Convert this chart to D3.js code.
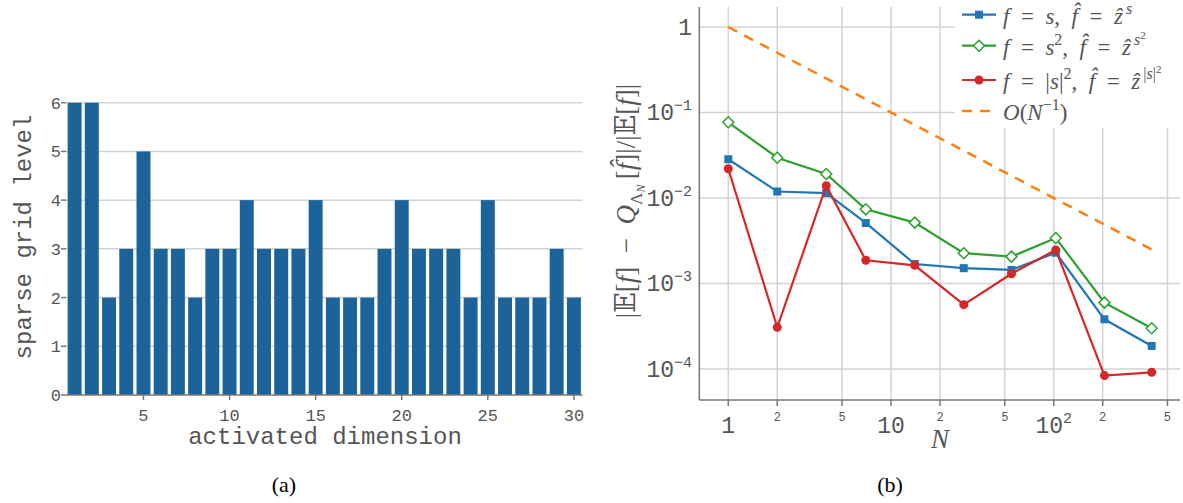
<!DOCTYPE html>
<html>
<head>
<meta charset="utf-8">
<script src="https://cdn.jsdelivr.net/npm/d3@7"></script>
<style>
  body { margin: 0; background: #fff; }
  text { fill: #555; }
</style>
</head>
<body>
<svg id="fig" width="1183" height="503"></svg>
<script>
// left panel: sparse grid level for each activated dimension
const levels = [6, 6, 2, 3, 5, 3, 3, 2, 3, 3, 4, 3, 3, 3, 4, 2, 2, 2, 3, 4, 3, 3, 3, 2, 4, 2, 2, 2, 3, 2]
const levelTicks = [0, 1, 2, 3, 4, 5, 6]
const dimTicks = [5, 10, 15, 20, 25, 30]

// right panel: relative error vs N
const nValues = [1, 2, 4, 7, 14, 28, 55, 103, 205, 400]
const errS = [0.0284, 0.0119, 0.0114, 0.0051, 0.00169, 0.00151, 0.00144, 0.00229, 0.000381, 0.000186]
const errS2 = [0.0768, 0.0296, 0.0191, 0.00737, 0.00515, 0.00226, 0.00206, 0.0034, 0.000597, 0.000299]
const errAbs = [0.022, 0.000307, 0.0139, 0.00187, 0.00163, 0.000565, 0.0013, 0.00247, 0.0000836, 0.0000914]
const rateRef = [1, 0.5, 0.25, 0.143, 0.0714, 0.0357, 0.0182, 0.0097, 0.00488, 0.0025]
const yDecades = [1, 1e-1, 1e-2, 1e-3, 1e-4]
const xMajor = [1, 10, 100]
const xMinor = [2, 5, 20, 50, 200, 500]

const svg = d3.select('#fig')
const mono = '"Liberation Mono", "DejaVu Sans Mono", monospace'
const serif = '"Liberation Serif", "DejaVu Serif", serif'
const grid = '#d3d3d3'
const sp = '\u2002'

// ---------- (a) bar chart ----------
const xL = d3.scaleLinear().domain([0.5, 30.5]).range([66, 582.5])
const yL = d3.scaleLinear().domain([0, 6]).range([395, 102.7])
const gA = svg.append('g')

gA.selectAll('line.grid')
    .data(levelTicks.slice(1))
    .enter().append('line')
    .attr('x1', xL(0.5)).attr('x2', xL(30.5))
    .attr('y1', d => yL(d)).attr('y2', d => yL(d))
    .style('stroke', grid).style('stroke-width', 1.5)

const bw = (xL(2) - xL(1)) * 0.81
gA.selectAll('rect')
    .data(levels)
    .enter().append('rect')
    .attr('x', (d, i) => xL(i + 1) - bw / 2)
    .attr('width', bw)
    .attr('y', d => yL(d))
    .attr('height', d => yL(0) - yL(d))
    .style('fill', '#1c6399')

gA.append('line')
    .attr('x1', xL(0.5)).attr('x2', xL(30.5))
    .attr('y1', yL(0)).attr('y2', yL(0))
    .style('stroke', '#777').style('stroke-width', 1.5)

gA.selectAll('line.yt')
    .data(levelTicks)
    .enter().append('line')
    .attr('x1', 61).attr('x2', 66)
    .attr('y1', d => yL(d)).attr('y2', d => yL(d))
    .style('stroke', '#777').style('stroke-width', 1.5)

gA.selectAll('text.yl')
    .data(levelTicks)
    .enter().append('text')
    .attr('x', 61).attr('y', d => yL(d) + 6)
    .attr('text-anchor', 'end')
    .style('font-family', mono).style('font-size', '17px')
    .text(d => d)

gA.selectAll('line.xt')
    .data(dimTicks)
    .enter().append('line')
    .attr('x1', d => xL(d)).attr('x2', d => xL(d))
    .attr('y1', yL(0)).attr('y2', yL(0) + 5)
    .style('stroke', '#777').style('stroke-width', 1.5)

gA.selectAll('text.xl')
    .data(dimTicks)
    .enter().append('text')
    .attr('x', d => xL(d)).attr('y', 421)
    .attr('text-anchor', 'middle')
    .style('font-family', mono).style('font-size', '17px')
    .text(d => d)

gA.append('text')
    .attr('x', 325).attr('y', 444)
    .attr('text-anchor', 'middle')
    .style('font-family', mono).style('font-size', '24px')
    .text('activated dimension')

gA.append('text')
    .attr('transform', 'translate(31,237) rotate(-90)')
    .attr('text-anchor', 'middle')
    .style('font-family', mono).style('font-size', '24px')
    .text('sparse grid level')

// ---------- (b) convergence plot ----------
const xR = d3.scaleLog().domain([Math.pow(10, -0.178), Math.pow(10, 2.776)]).range([699.3, 1180])
const yR = d3.scaleLog().domain([Math.pow(10, -4.363), Math.pow(10, 0.234)]).range([400, 7])
const gB = svg.append('g')

gB.selectAll('line.vg')
    .data(xMajor.concat(xMinor))
    .enter().append('line')
    .attr('x1', d => xR(d)).attr('x2', d => xR(d))
    .attr('y1', 7).attr('y2', 400)
    .style('stroke', grid).style('stroke-width', 1.5)

gB.selectAll('line.hg')
    .data(yDecades)
    .enter().append('line')
    .attr('x1', 699.3).attr('x2', 1180)
    .attr('y1', d => yR(d)).attr('y2', d => yR(d))
    .style('stroke', grid).style('stroke-width', 1.5)

gB.append('line')
    .attr('x1', 699.3).attr('x2', 699.3).attr('y1', 7).attr('y2', 400)
    .style('stroke', '#777').style('stroke-width', 1.5)
gB.append('line')
    .attr('x1', 699.3).attr('x2', 1180).attr('y1', 400).attr('y2', 400)
    .style('stroke', '#777').style('stroke-width', 1.5)

gB.selectAll('line.xt')
    .data(xMajor.concat(xMinor))
    .enter().append('line')
    .attr('x1', d => xR(d)).attr('x2', d => xR(d))
    .attr('y1', 400).attr('y2', 406)
    .style('stroke', '#777').style('stroke-width', 1.5)

// y tick labels 1, 10^-1 ...
yDecades.forEach(v => {
    const k = Math.round(Math.log10(v))
    const t = gB.append('text')
        .attr('x', 692).attr('y', yR(v) + 8)
        .attr('text-anchor', 'end')
        .style('font-family', mono).style('font-size', '23px')
    if (k === 0) { t.text('1'); return }
    t.append('tspan').text('10')
    t.append('tspan').attr('dy', -10).style('font-size', '15px').text('\u2212' + (-k))
})

xMajor.forEach(v => {
    const k = Math.round(Math.log10(v))
    const t = gB.append('text')
        .attr('x', xR(v)).attr('y', 433)
        .attr('text-anchor', 'middle')
        .style('font-family', mono).style('font-size', '23px')
    if (k < 2) { t.text(v); return }
    t.append('tspan').text('10')
    t.append('tspan').attr('dy', -10).style('font-size', '15px').text(k)
})

gB.selectAll('text.minor')
    .data(xMinor)
    .enter().append('text')
    .attr('x', d => xR(d)).attr('y', 421)
    .attr('text-anchor', 'middle')
    .style('font-family', mono).style('font-size', '12px')
    .text(d => String(d)[0])

// axis titles
gB.append('text')
    .attr('x', 940).attr('y', 448)
    .attr('text-anchor', 'middle')
    .style('font-family', serif).style('font-style', 'italic').style('font-size', '27px')
    .text('N')

const yt = gB.append('text')
    .attr('transform', 'translate(635,201) rotate(-90)')
    .attr('text-anchor', 'middle')
    .style('font-family', serif).style('font-size', '27px')
yt.append('tspan').text('|\uD835\uDD3C[')
yt.append('tspan').style('font-style', 'italic').text('f')
yt.append('tspan').text(']' + sp + '\u2212' + sp)
yt.append('tspan').style('font-style', 'italic').text('Q')
yt.append('tspan').attr('dy', 7).style('font-size', '17px').text('\u039B')
yt.append('tspan').attr('dy', 3).style('font-size', '12px').style('font-style', 'italic').text('N')
yt.append('tspan').attr('dy', -10).text('\u2009[')
yt.append('tspan').style('font-style', 'italic').text('f\u0302')
yt.append('tspan').text(']|/|\uD835\uDD3C[')
yt.append('tspan').style('font-style', 'italic').text('f')
yt.append('tspan').text(']|')

const line = d3.line().x((d, i) => xR(nValues[i])).y(d => yR(d))

gB.append('path')
    .attr('d', line(rateRef))
    .style('fill', 'none').style('stroke', '#ff7f0e')
    .style('stroke-width', 2.5).style('stroke-dasharray', '10,8')

const series = [
    { vals: errS, color: '#1f77b4', marker: 'square' },
    { vals: errS2, color: '#2ca02c', marker: 'diamond' },
    { vals: errAbs, color: '#d62728', marker: 'circle' }
]

const drawMarker = (g, kind, color, x, y) => {
    if (kind === 'square') {
        g.append('rect').attr('x', x - 4).attr('y', y - 4).attr('width', 8).attr('height', 8)
            .style('fill', color)
    } else if (kind === 'diamond') {
        g.append('path').attr('d', `M${x},${y - 5.5}L${x + 5.5},${y}L${x},${y + 5.5}L${x - 5.5},${y}Z`)
            .style('fill', '#fff').style('stroke', color).style('stroke-width', 1.5)
    } else {
        g.append('circle').attr('cx', x).attr('cy', y).attr('r', 4.5).style('fill', color)
    }
}

series.forEach(s => {
    gB.append('path')
        .attr('d', line(s.vals))
        .style('fill', 'none').style('stroke', s.color).style('stroke-width', 2.2)
    s.vals.forEach((v, i) => drawMarker(gB, s.marker, s.color, xR(nValues[i]), yR(v)))
})

// legend
const lg = gB.append('g')
lg.append('rect').attr('x', 955).attr('y', 0).attr('width', 228).attr('height', 128).style('fill', '#fff')
const rows = [14.7, 45.7, 80, 111]
series.forEach((s, i) => {
    lg.append('line').attr('x1', 962).attr('x2', 996).attr('y1', rows[i]).attr('y2', rows[i])
        .style('stroke', s.color).style('stroke-width', 2.2)
    drawMarker(lg, s.marker, s.color, 979, rows[i])
})
lg.append('line').attr('x1', 962).attr('x2', 996).attr('y1', rows[3]).attr('y2', rows[3])
    .style('stroke', '#ff7f0e').style('stroke-width', 2.5).style('stroke-dasharray', '10,8')

const legText = (y) => lg.append('text').attr('x', 1003).attr('y', y + 9)
    .style('font-family', serif).style('font-size', '23px')
const it = (t, s) => t.append('tspan').style('font-style', 'italic').text(s)
const rm = (t, s) => t.append('tspan').text(s)
const up = (t, s, dy, size) => t.append('tspan').attr('dy', dy).style('font-size', size).style('font-style', 'italic').text(s)

let t1 = legText(rows[0])
it(t1, 'f'); rm(t1, sp + '=' + sp); it(t1, 's'); rm(t1, ',' + sp)
it(t1, 'f\u0302'); rm(t1, sp + '=' + sp); it(t1, '\u1E91'); up(t1, '\u2009s', -10, '16px')

let t2 = legText(rows[1])
it(t2, 'f'); rm(t2, sp + '=' + sp); it(t2, 's'); up(t2, '2', -10, '16px').style('font-style', 'normal')
rm(t2, ',' + sp).attr('dy', 10)
it(t2, 'f\u0302'); rm(t2, sp + '=' + sp); it(t2, '\u1E91'); up(t2, '\u2009s', -10, '16px')
up(t2, '2', -6, '11px').style('font-style', 'normal')

let t3 = legText(rows[2])
it(t3, 'f'); rm(t3, sp + '=' + sp + '|'); it(t3, 's'); rm(t3, '|')
up(t3, '2', -10, '16px').style('font-style', 'normal')
rm(t3, ',' + sp).attr('dy', 10)
it(t3, 'f\u0302'); rm(t3, sp + '=' + sp); it(t3, '\u1E91')
up(t3, '\u2009|', -10, '16px').style('font-style', 'normal')
it(t3, 's').style('font-size', '16px'); rm(t3, '|').style('font-size', '16px')
up(t3, '2', -6, '11px').style('font-style', 'normal')

let t4 = legText(rows[3])
it(t4, 'O'); rm(t4, '('); it(t4, 'N')
up(t4, '\u22121', -10, '16px').style('font-style', 'normal')
rm(t4, ')').attr('dy', 10)

// subfigure captions
svg.append('text').attr('x', 284).attr('y', 492).attr('text-anchor', 'middle')
    .style('font-family', serif).style('font-size', '22px').style('fill', '#000').text('(a)')
svg.append('text').attr('x', 890).attr('y', 492).attr('text-anchor', 'middle')
    .style('font-family', serif).style('font-size', '22px').style('fill', '#000').text('(b)')
</script>
</body>
</html>
